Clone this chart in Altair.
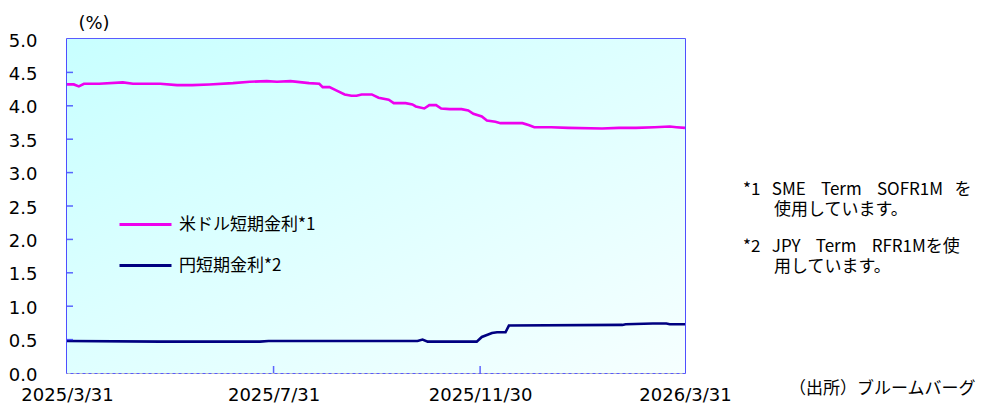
import altair as alt
import pandas as pd

# ---------------- data ----------------
series_names = ["米ドル短期金利*1", "円短期金利*2"]
series_colors = ["#ee00ee", "#000080"]

usd_dates = [
    "2025-03-31", "2025-04-04", "2025-04-07", "2025-04-10", "2025-04-19", "2025-05-03",
    "2025-05-09", "2025-05-25", "2025-06-04", "2025-06-13", "2025-06-23", "2025-07-07",
    "2025-07-17", "2025-07-27", "2025-08-02", "2025-08-10", "2025-08-21", "2025-08-27",
    "2025-08-29", "2025-09-02", "2025-09-06", "2025-09-11", "2025-09-15", "2025-09-18",
    "2025-09-21", "2025-09-27", "2025-10-01", "2025-10-07", "2025-10-10", "2025-10-17",
    "2025-10-21", "2025-10-23", "2025-10-28", "2025-10-31", "2025-11-04", "2025-11-07",
    "2025-11-12", "2025-11-19", "2025-11-23", "2025-11-26", "2025-12-01", "2025-12-04",
    "2025-12-09", "2025-12-12", "2025-12-25", "2025-12-29", "2026-01-01", "2026-01-11",
    "2026-01-21", "2026-02-10", "2026-02-20", "2026-03-02", "2026-03-13", "2026-03-22",
    "2026-03-26", "2026-03-31",
]
usd_values = [
    4.32, 4.32, 4.29, 4.33, 4.33, 4.35,
    4.33, 4.33, 4.31, 4.31, 4.32, 4.34,
    4.36, 4.37, 4.36, 4.37, 4.34, 4.33,
    4.28, 4.28, 4.23, 4.17, 4.15, 4.15,
    4.17, 4.17, 4.12, 4.09, 4.04, 4.04,
    4.02, 3.99, 3.96, 4.01, 4.01, 3.96,
    3.95, 3.95, 3.93, 3.88, 3.84, 3.78,
    3.76, 3.74, 3.74, 3.71, 3.68, 3.68,
    3.67, 3.66, 3.67, 3.67, 3.68, 3.69,
    3.68, 3.67,
]

jpy_dates = [
    "2025-03-31", "2025-05-25", "2025-07-23", "2025-07-28", "2025-09-25", "2025-10-24",
    "2025-10-27", "2025-10-30", "2025-11-28", "2025-12-01", "2025-12-04", "2025-12-07",
    "2025-12-10", "2025-12-15", "2025-12-17", "2026-02-22", "2026-02-24", "2026-03-12",
    "2026-03-20", "2026-03-22", "2026-03-31",
]
jpy_values = [
    0.48, 0.47, 0.47, 0.48, 0.48, 0.48,
    0.50, 0.47, 0.47, 0.54, 0.57, 0.60,
    0.61, 0.61, 0.71, 0.72, 0.73, 0.74,
    0.74, 0.73, 0.73,
]

y_label_values = [0.0, 0.5, 1.0, 1.5, 2.0, 2.5, 3.0, 3.5, 4.0, 4.5, 5.0]
inner_y_ticks = [0.5, 1.0, 1.5, 2.0, 2.5, 3.0, 3.5, 4.0, 4.5]
x_label_dates = [(2025, 3, 31), (2025, 7, 31), (2025, 11, 30), (2026, 3, 31)]
inner_x_ticks = ["2025-07-31", "2025-11-30"]

unit_text = "(%)"
S3 = "\u00a0\u00a0\u00a0"
S4 = "\u00a0\u00a0\u00a0\u00a0"
note_lines = [
    "*1" + S3 + "SME" + S4 + "Term" + S4 + "SOFR1M" + S3 + "を",
    "使用しています。",
    "*2" + S3 + "JPY" + S4 + "Term" + S4 + "RFR1Mを使",
    "用しています。",
]
source_text = "（出所）ブルームバーグ"

# ---------------- layout ----------------
W, H = 618, 334
BLUE = "#2424ff"
JP = "Noto Sans CJK JP"
NUM = "DejaVu Sans"

df = pd.concat([
    pd.DataFrame({"date": usd_dates, "value": usd_values, "series": series_names[0]}),
    pd.DataFrame({"date": jpy_dates, "value": jpy_values, "series": series_names[1]}),
])

xscale = alt.Scale(
    type="utc",
    domain=[alt.DateTime(year=2025, month=3, date=31, utc=True),
            alt.DateTime(year=2026, month=3, date=31, utc=True)],
)
yscale = alt.Scale(domain=[0, 5], nice=False, zero=False)

x_axis = alt.Axis(
    values=[alt.DateTime(year=y, month=m, date=d, utc=True) for (y, m, d) in x_label_dates],
    format="%Y/%-m/%-d", grid=False, ticks=False, tickSize=0, domain=False,
    labelPadding=13, labelFlush=False, labelBound=False, labelOverlap=False,
    title=None,
)
y_axis = alt.Axis(
    values=y_label_values, format=".1f", grid=True, gridColor="#bdbdbd",
    gridDash=[3, 3], gridWidth=1, ticks=False, tickSize=0, domain=False,
    labelPadding=30, labelOffset=2, labelOverlap=False, labelFlush=False,
    labelBound=False, title=None,
)

bg = alt.Chart(alt.Data(values=[{}])).mark_rect(
    fill=alt.LinearGradient(
        gradient="linear",
        stops=[alt.GradientStop(color="#c8ffff", offset=0),
               alt.GradientStop(color="#f6ffff", offset=1)],
        x1=0, y1=0, x2=1, y2=1,
    )
).encode(x=alt.value(0), x2=alt.value(W), y=alt.value(0), y2=alt.value(H))

lines = alt.Chart(df).mark_line(strokeWidth=2.6, interpolate="linear").encode(
    x=alt.X("date:T", scale=xscale, axis=x_axis),
    y=alt.Y("value:Q", scale=yscale, axis=y_axis),
    color=alt.Color(
        "series:N",
        scale=alt.Scale(domain=series_names, range=series_colors),
        legend=alt.Legend(
            orient="none", legendX=51, legendY=158, title=None,
            symbolType="stroke", symbolSize=2704, symbolStrokeWidth=3,
            labelFont=JP, labelFontSize=17, labelColor="black",
            labelOffset=6, rowPadding=5, padding=0,
        ),
    ),
    order=alt.Order("date:T"),
)

yticks = alt.Chart(pd.DataFrame({"v": inner_y_ticks})).mark_tick(
    orient="horizontal", size=6, thickness=1.5, color=BLUE
).encode(y=alt.Y("v:Q", scale=yscale, axis=y_axis), x=alt.value(3))

xticks = alt.Chart(pd.DataFrame({"d": inner_x_ticks})).mark_tick(
    orient="vertical", size=7, thickness=1.5, color=BLUE
).encode(x=alt.X("d:T", scale=xscale, axis=x_axis), y=alt.value(H - 3.5))


def label(text, x, y, align="left", size=17, font=JP):
    return alt.Chart(alt.Data(values=[{"t": text}])).mark_text(
        align=align, baseline="middle", fontSize=size, font=font, color="black"
    ).encode(x=alt.value(x), y=alt.value(y), text="t:N")


texts = [
    label(unit_text, 27, -15, align="center", size=18, font=NUM),
    label(note_lines[0], 676, 151, size=17),
    label(note_lines[1], 707, 171, size=17),
    label(note_lines[2], 676, 208, size=17),
    label(note_lines[3], 707, 228, size=17),
    label(source_text, 722, 350, size=17),
]

chart = alt.layer(bg, lines, yticks, xticks, *texts).properties(
    width=W, height=H,
    padding={"left": 59, "top": 31, "right": 300, "bottom": 31},
    autosize=alt.AutoSizeParams(type="none"),
).configure_view(
    stroke=BLUE, strokeWidth=1.6
).configure_axis(
    labelFont=NUM, labelFontSize=18, labelColor="black", labelFontWeight="normal",
)

chart.save("out.html", embed_options={"renderer": "svg", "actions": False})
